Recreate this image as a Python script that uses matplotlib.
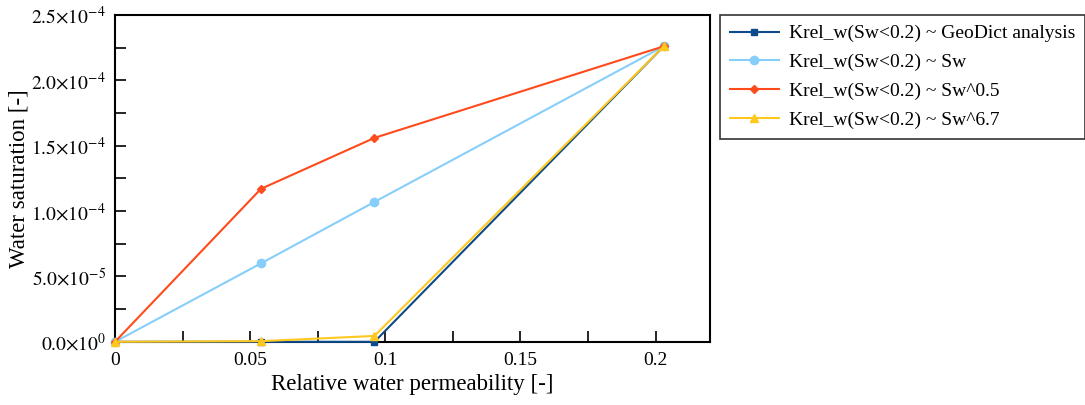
import matplotlib
matplotlib.use("Agg")
import matplotlib.pyplot as plt
from matplotlib.ticker import FuncFormatter, MultipleLocator

# Relative water permeability (x) and water saturation (y) per model
krel = [0.0, 0.054, 0.096, 0.203]
sw_geodict = [0.0, 0.0, 0.0, 2.26e-4]
sw_lin = [0.0, 6.0e-5, 1.07e-4, 2.26e-4]
sw_pow05 = [0.0, 1.17e-4, 1.56e-4, 2.26e-4]
sw_pow67 = [0.0, 0.5e-6, 4.5e-6, 2.26e-4]

labels = [
    "Krel_w(Sw<0.2) ~ GeoDict analysis",
    "Krel_w(Sw<0.2) ~ Sw",
    "Krel_w(Sw<0.2) ~ Sw^0.5",
    "Krel_w(Sw<0.2) ~ Sw^6.7",
]

plt.rcParams["font.family"] = ["Liberation Serif", "DejaVu Serif"]
plt.rcParams["mathtext.fontset"] = "stix"


def sci_fmt(v, pos):
    if v == 0:
        return r"$0.0{\times}10^{0}$"
    exp = int(f"{v:e}".split("e")[1])
    mant = v / 10 ** exp
    return rf"${mant:.1f}{{\times}}10^{{{exp}}}$"


def x_fmt(v, pos):
    if abs(v) < 1e-12:
        return "0"
    return f"{v:g}"


fig = plt.figure(figsize=(10.85, 4.05), dpi=100)
ax = fig.add_axes([0.106, 0.156, 0.548, 0.807])

series = [
    (sw_geodict, "#0d4a8b", "s", 5),
    (sw_lin, "#87cefa", "o", 6),
    (sw_pow05, "#ff4a1c", "D", 4.5),
    (sw_pow67, "#ffc81e", "^", 5.5),
]
for (y, c, m, ms), lab in zip(series, labels):
    ax.plot(krel, y, color=c, marker=m, markersize=ms, linewidth=1.5,
            label=lab, clip_on=False, zorder=3)

ax.set_xlim(0, 0.22)
ax.set_ylim(0, 2.5e-4)
ax.xaxis.set_major_locator(MultipleLocator(0.05))
ax.xaxis.set_minor_locator(MultipleLocator(0.025))
ax.yaxis.set_major_locator(MultipleLocator(5e-5))
ax.yaxis.set_minor_locator(MultipleLocator(2.5e-5))
ax.xaxis.set_major_formatter(FuncFormatter(x_fmt))
ax.yaxis.set_major_formatter(FuncFormatter(sci_fmt))
ax.tick_params(which="both", direction="in", labelsize=14, width=1.2)
ax.tick_params(axis="y", pad=6.5)
ax.tick_params(axis="x", pad=7)
ax.tick_params(which="major", length=8)
ax.tick_params(which="minor", length=8)
for s in ax.spines.values():
    s.set_linewidth(1.5)

ax.set_xlabel("Relative water permeability [-]", fontsize=16.5)
ax.set_ylabel("Water saturation [-]", fontsize=16.5)
ax.yaxis.set_label_coords(-0.143, 0.5)

leg = ax.legend(loc="upper left", bbox_to_anchor=(1.018, 1.0), fontsize=14,
                frameon=True, fancybox=False, edgecolor="black",
                handlelength=2.5, handletextpad=0.55, labelspacing=0.58,
                borderpad=0.5, borderaxespad=0)
leg.get_frame().set_linewidth(1.2)

fig.savefig("out.png", dpi=100)
